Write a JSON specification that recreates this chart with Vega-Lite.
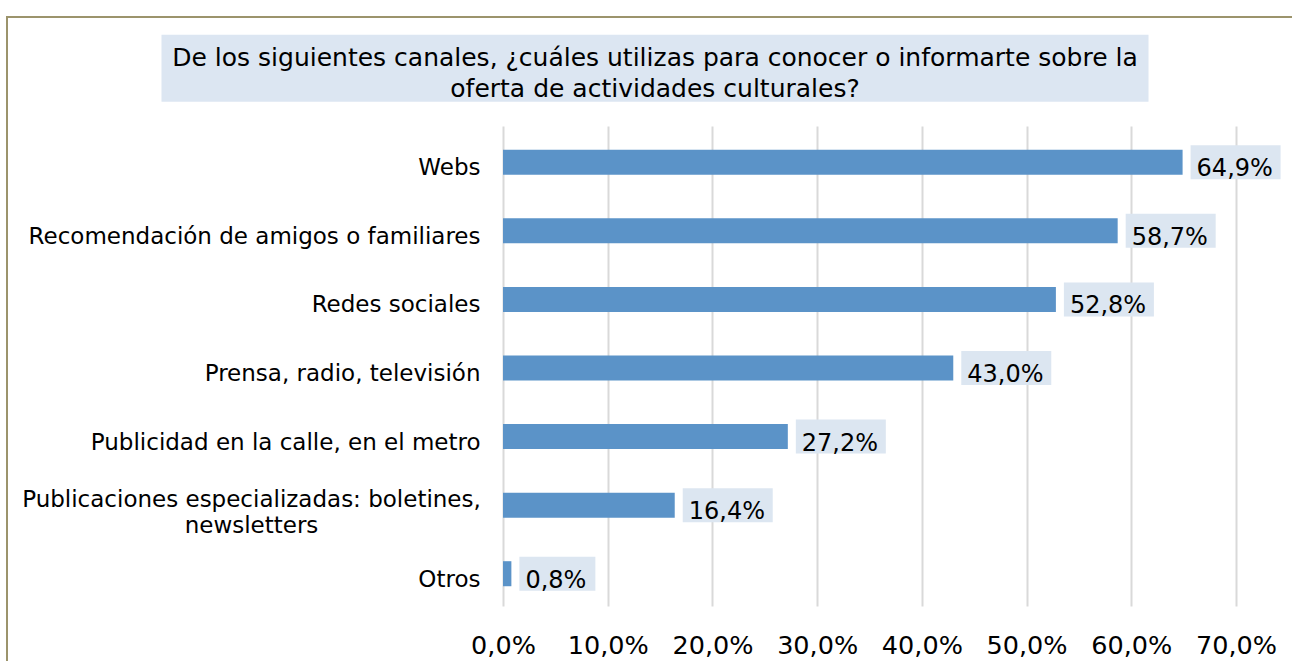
{
  "$schema": "https://vega.github.io/schema/vega-lite/v6.json",
  "width": 1296,
  "height": 700,
  "autosize": "none",
  "padding": {"left": 7, "top": 17, "right": -11, "bottom": -56},
  "background": "white",
  "config": {
    "view": {"stroke": "#9c946c", "strokeWidth": 2},
    "locale": {"number": {"decimal": ",", "thousands": ".", "grouping": [3], "currency": ["", " €"]}},
    "font": "DejaVu Sans"
  },
  "data": {
    "values": [
      {"canal": "Webs", "value": 0.649},
      {"canal": "Recomendación de amigos o familiares", "value": 0.587},
      {"canal": "Redes sociales", "value": 0.528},
      {"canal": "Prensa, radio, televisión", "value": 0.430},
      {"canal": "Publicidad en la calle, en el metro", "value": 0.272},
      {"canal": "Publicaciones especializadas: boletines, newsletters", "value": 0.164},
      {"canal": "Otros", "value": 0.008}
    ]
  },
  "layer": [
    {
      "data": {"values": [{"k": 1}]},
      "mark": {"type": "point", "shape": "M-1,-0.0679H1V0.0679H-1Z", "filled": true, "color": "#dce6f2", "opacity": 1, "size": 974169, "strokeWidth": 0, "yOffset": -298.7},
      "encoding": {}
    },
    {
      "data": {"values": [{"k": 1}]},
      "mark": {"type": "text", "fontSize": 25, "lineHeight": 31, "color": "#000000", "baseline": "middle", "align": "center", "yOffset": -309},
      "encoding": {"text": {"value": ["De los siguientes canales, ¿cuáles utilizas para conocer o informarte sobre la", "oferta de actividades culturales?"]}}
    },
    {
      "mark": {"type": "bar", "color": "#5b93c8"},
      "encoding": {
        "y": {
          "field": "canal", "type": "nominal", "sort": null,
          "scale": {"type": "band", "range": [111, 591], "paddingInner": 0.635, "paddingOuter": 0.3175},
          "axis": {
            "orient": "left", "offset": -496, "domain": false, "ticks": false, "grid": false, "title": null,
            "labelFontSize": 23, "labelColor": "#000000", "labelLimit": 0, "labelLineHeight": 26,
            "labelExpr": "datum.value == 'Publicaciones especializadas: boletines, newsletters' ? ['Publicaciones especializadas: boletines,', 'newsletters'] : datum.value",
            "labelAlign": {"condition": {"test": "datum.value == 'Publicaciones especializadas: boletines, newsletters'", "value": "center"}, "value": "right"},
            "labelPadding": {"condition": {"test": "datum.value == 'Publicaciones especializadas: boletines, newsletters'", "value": 252}, "value": 23},
            "labelOffset": {"condition": {"test": "datum.value == 'Publicaciones especializadas: boletines, newsletters'", "value": -5}, "value": 6}
          }
        },
        "x": {
          "field": "value", "type": "quantitative",
          "scale": {"domain": [0, 0.7], "range": [496, 1229], "nice": false, "zero": true},
          "axis": {
            "orient": "bottom", "offset": -68, "domain": false, "ticks": false, "tickSize": 0, "title": null,
            "values": [0, 0.1, 0.2, 0.3, 0.4, 0.5, 0.6, 0.7], "format": ".1%",
            "grid": true, "gridColor": "#d9d9d9", "gridWidth": 2,
            "labelFontSize": 25.5, "labelColor": "#000000", "labelBaseline": "alphabetic", "labelPadding": 4, "labelFlush": false, "labelOverlap": false
          }
        }
      }
    },
    {
      "transform": [{"filter": "datum.value >= 0.1"}],
      "mark": {"type": "bar", "color": "#dce6f1", "height": 34, "xOffset": 8, "x2Offset": 98},
      "encoding": {
        "y": {"field": "canal", "type": "nominal", "sort": null},
        "x": {"field": "value", "type": "quantitative"},
        "x2": {"field": "value"}
      }
    },
    {
      "transform": [{"filter": "datum.value < 0.1"}],
      "mark": {"type": "bar", "color": "#dce6f1", "height": 34, "xOffset": 8, "x2Offset": 84},
      "encoding": {
        "y": {"field": "canal", "type": "nominal", "sort": null},
        "x": {"field": "value", "type": "quantitative"},
        "x2": {"field": "value"}
      }
    },
    {
      "mark": {"type": "text", "align": "left", "baseline": "middle", "xOffset": 14, "yOffset": 7, "fontSize": 24, "color": "#000000"},
      "encoding": {
        "y": {"field": "canal", "type": "nominal", "sort": null},
        "x": {"field": "value", "type": "quantitative"},
        "text": {"field": "value", "type": "quantitative", "format": ".1%"}
      }
    }
  ]
}
